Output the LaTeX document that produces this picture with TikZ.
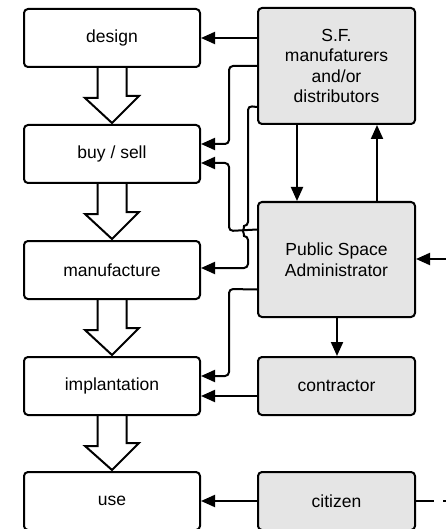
\documentclass[tikz,border=0pt]{standalone}
\usepackage{fontspec}
\setmainfont{Liberation Sans}
\usetikzlibrary{arrows.meta,calc}

\begin{document}
\begin{tikzpicture}[
    x=1pt, y=-1pt,
    stage/.style={rectangle, draw, rounded corners=4pt, line width=2pt, fill=white, minimum width=176pt, minimum height=58pt, align=center, font=\fontsize{17.5}{20.5}\selectfont},
    actor/.style={stage, fill=black!10, minimum width=157pt},
    arrow/.style={-{Triangle[length=14pt,width=12pt]}, line width=2pt, rounded corners=4pt},
    flow/.style={line width=2pt, line join=miter},
]
    \useasboundingbox (0,0) rectangle (446,529);
    % life cycle
    \node[stage] (design) at (112,38) {design};
    \node[stage] (buy) at (112,154) {buy / sell};
    \node[stage] (manu) at (112,270) {manufacture};
    \node[stage] (impl) at (112,386) {implantation};
    \node[stage] (use) at (112,501) {use};
    % actors
    \node[actor, minimum height=116pt] (sf) at (336.5,66) {S.F.\\manufaturers\\and/or\\distributors};
    \node[actor, minimum height=115pt] (psa) at (336.5,259.5) {Public Space\\Administrator};
    \node[actor] (contr) at (336.5,386) {contractor};
    \node[actor] (cit) at (336.5,501) {citizen};
    \coordinate (pin) at (446,259);
    \coordinate (cout) at (434,501);
    \coordinate (cdash) at (443,501);

    \foreach \a/\b in {design/buy, buy/manu, manu/impl, impl/use}
        \draw[flow] ($(\a.south)+(-14.5,0)$) -- ++(0,30) -- ++(-12.5,0) -- ($(\b.north)+(0,-1)$)
            -- ($(\b.north)+(27,-28)$) -- ++(-12.5,0) -- ($(\a.south)+(14.5,0)$);

    \draw[arrow] (sf.west |- design.east) -- (design.east);
    \draw[arrow] (sf.west) -- (229,66) |- ($(buy.east)+(0,-10)$);
    \draw[arrow] ($(psa.north west)+(0,28.5)$) -- (229,231) |- ($(buy.east)+(0,9)$);
    \draw[arrow] ($(sf.south west)+(0,-18)$) -- (248,106) -- (248,226)
        arc[start angle=270, end angle=90, radius=5] -- (248,268) -- ($(manu.east)+(0,-2)$);
    \draw[arrow] ($(sf.south)+(-39.5,0)$) -- ($(psa.north)+(-39.5,0)$);
    \draw[arrow] ($(psa.north)+(40.5,0)$) -- ($(sf.south)+(40.5,0)$);
    \draw[arrow] (pin) -- (pin -| psa.east);
    \draw[arrow] ($(psa.south west)+(0,-28.5)$) -- (229,289) |- ($(impl.east)+(0,-10)$);
    \draw[arrow] ($(psa.south)+(0.5,0)$) -- ($(contr.north)+(0.5,0)$);
    \draw[arrow] ($(contr.west)+(0,10)$) -- ($(impl.east)+(0,10)$);
    \draw[arrow] (cit.west) -- (use.east);
    \draw[flow] (cit.east) -- (cout);
    \draw[flow] (cdash) -- ++(3,0);
\end{tikzpicture}
\end{document}
